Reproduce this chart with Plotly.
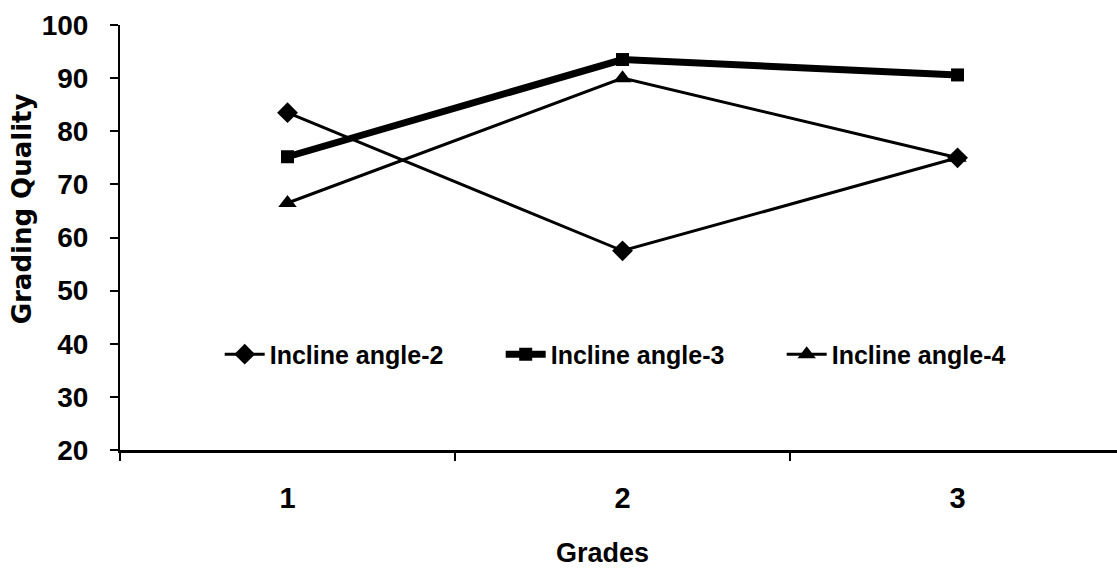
import plotly.graph_objects as go

grades = ["1", "2", "3"]
angle2 = [83.5, 57.5, 75.0]
angle3 = [75.2, 93.5, 90.6]
angle4 = [66.5, 90.0, 75.0]
y_ticks = [20, 30, 40, 50, 60, 70, 80, 90, 100]

NARROW = "Liberation Sans, Arial, sans-serif"

fig = go.Figure()
fig.add_trace(go.Scatter(x=grades, y=angle2, name="Incline angle-2", mode="lines+markers",
                         line=dict(color="black", width=3),
                         marker=dict(symbol="diamond", size=16, color="black")))
fig.add_trace(go.Scatter(x=grades, y=angle3, name="Incline angle-3", mode="lines+markers",
                         line=dict(color="black", width=7),
                         marker=dict(symbol="square", size=13, color="black")))
fig.add_trace(go.Scatter(x=grades, y=angle4, name="Incline angle-4", mode="lines+markers",
                         line=dict(color="black", width=3),
                         marker=dict(symbol="triangle-up", size=16, color="black")))

fig.update_layout(
    width=1117, height=570,
    margin=dict(l=120, r=0, t=25, b=120),
    paper_bgcolor="white", plot_bgcolor="white",
    showlegend=True,
    legend=dict(orientation="h", x=0.10, xanchor="left", y=0.225, yanchor="middle",
                bgcolor="rgba(0,0,0,0)",
                font=dict(family=NARROW, size=25, color="black", weight="bold"),
                entrywidth=226, entrywidthmode="pixels", itemwidth=40),
    xaxis=dict(type="category", range=[-0.5, 2.476], tickson="boundaries",
               ticks="outside", ticklen=8, tickwidth=2, tickcolor="black",
               showline=True, linecolor="black", linewidth=3, showgrid=False,
               zeroline=False, ticklabelstandoff=20,
               tickfont=dict(family=NARROW, size=29, color="black", weight="bold")),
    yaxis=dict(range=[20, 100], tickvals=y_ticks, ticks="outside", ticklen=8,
               tickwidth=2, tickcolor="black", showline=True, linecolor="black",
               linewidth=2, showgrid=False, zeroline=False, ticklabelstandoff=16,
               tickfont=dict(family=NARROW, size=28, color="black", weight="bold")),
    annotations=[
        dict(text="Grades", x=0.484, y=-0.242, xref="paper", yref="paper",
             xanchor="center", yanchor="middle", showarrow=False,
             font=dict(family=NARROW, size=27, color="black", weight="bold")),
        dict(text="Grading Quality", x=-0.098, y=0.567, xref="paper", yref="paper",
             xanchor="center", yanchor="middle", showarrow=False, textangle=-90,
             font=dict(family="DejaVu Sans, Arial, sans-serif", size=26, color="black",
                       weight="bold")),
    ],
)

fig.write_html("out.html")
